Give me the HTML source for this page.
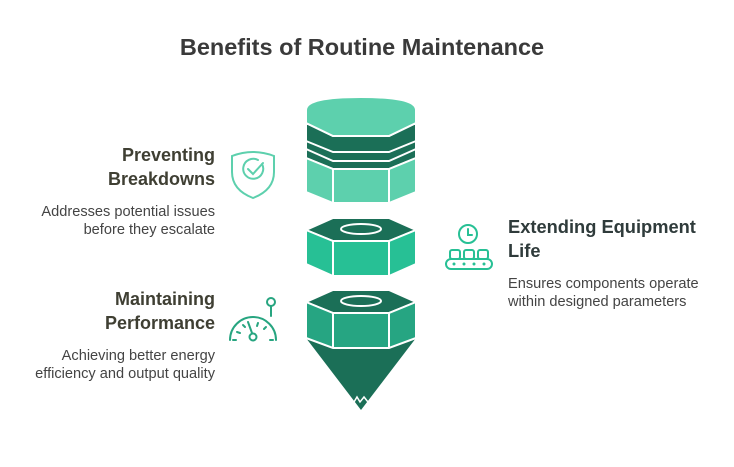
<!DOCTYPE html>
<html><head><meta charset="utf-8"><style>
body{margin:0;background:#fff;width:734px;height:462px;overflow:hidden;font-family:"Liberation Sans",sans-serif}
</style></head><body>
<svg width="734" height="462" viewBox="0 0 734 462" xmlns="http://www.w3.org/2000/svg" font-family="Liberation Sans, sans-serif">
<text x="362" y="55" text-anchor="middle" font-size="23.5" font-weight="bold" fill="#3a3a3a">Benefits of Routine Maintenance</text>
<!-- top piece -->
<g stroke="#fff" stroke-width="2">
<path d="M306,123 L306,192 L333,203 L389,203 L416,192 L416,123 Z" fill="#5dd0ad"/>
<path d="M306,123 L333,136 L389,136 L416,123 L416,158 L389,169 L333,169 L306,158 Z" fill="#1b6f57"/>
<path d="M306,141 L333,152 L389,152 L416,141" fill="none"/>
<path d="M306,149 L333,161 L389,161 L416,149" fill="none"/>
<path d="M306,158 L333,169 L389,169 L416,158 L416,192 L389,203 L333,203 L306,192 Z" fill="#5dd0ad"/>
<line x1="333" y1="169" x2="333" y2="203"/><line x1="389" y1="169" x2="389" y2="203"/>
<path d="M306,110 Q306,97 361,97 Q416,97 416,110 L416,123 L389,136 L333,136 L306,123 Z" fill="#5dd0ad"/>
</g>
<!-- middle -->
<g stroke="#fff" stroke-width="2">
<path d="M333,218 L389,218 L416,230 L389,241 L333,241 L306,230 Z" fill="#1b6f57"/>
<path d="M306,230 L333,241 L389,241 L416,230 L416,264 L389,276 L333,276 L306,264 Z" fill="#27c095"/>
<line x1="333" y1="241" x2="333" y2="276"/><line x1="389" y1="241" x2="389" y2="276"/>
<ellipse cx="361" cy="229" rx="20" ry="5" fill="none"/>
</g>
<!-- bottom -->
<g stroke="#fff" stroke-width="2">
<path d="M306,338 L333,348 L389,348 L416,338 L361,410 Z" fill="#1b6f57" stroke="none"/>
<path d="M333,290 L389,290 L416,302 L389,313 L333,313 L306,302 Z" fill="#1b6f57"/>
<path d="M306,302 L333,313 L389,313 L416,302 L416,338 L389,348 L333,348 L306,338 Z" fill="#26a582"/>
<line x1="333" y1="313" x2="333" y2="348"/><line x1="389" y1="313" x2="389" y2="348"/>
<ellipse cx="361" cy="301" rx="20" ry="5" fill="none"/>
<path d="M354,402 L357,397 L360,402 L364,397 L368,402" fill="none" stroke-width="1.5"/>
</g>
<!-- texts -->
<g font-weight="bold" font-size="18" fill="#3f3f33" text-anchor="end">
<text x="215" y="161">Preventing</text><text x="215" y="185">Breakdowns</text>
<text x="215" y="305">Maintaining</text><text x="215" y="329">Performance</text>
</g>
<g font-size="14.6" fill="#444" text-anchor="end">
<text x="215" y="216">Addresses potential issues</text><text x="215" y="234">before they escalate</text>
<text x="215" y="360">Achieving better energy</text><text x="215" y="378">efficiency and output quality</text>
</g>
<g font-weight="bold" font-size="18.3" fill="#2f3b3b">
<text x="508" y="233">Extending Equipment</text><text x="508" y="257">Life</text>
</g>
<g font-size="14.6" fill="#444">
<text x="508" y="288">Ensures components operate</text><text x="508" y="306">within designed parameters</text>
</g>
<!-- icons -->
<g fill="none" stroke="#5dd0ad" stroke-width="2" stroke-linecap="round">
<path d="M232,156 Q253,148 274,156 L274,172 Q274,190 253,198 Q232,190 232,172 Z"/>
<path d="M262,164 A10,10 0 1 1 258,160"/><path d="M248,169 L253,174 L263,163"/>
</g>
<g fill="none" stroke="#27a580" stroke-width="2" stroke-linecap="round">
<circle cx="271" cy="302" r="4"/><line x1="271" y1="306" x2="271" y2="316"/>
<path d="M230,340 A23,23 0 0 1 276,340"/>
<circle cx="253" cy="337" r="3.5"/><line x1="252" y1="333" x2="248" y2="322"/>
<line x1="237" y1="332" x2="240" y2="333"/><line x1="243" y1="325" x2="245" y2="327"/>
<line x1="258" y1="323" x2="257" y2="326"/><line x1="266" y1="327" x2="264" y2="329"/>
<line x1="233" y1="340" x2="236" y2="340"/><line x1="270" y1="340" x2="273" y2="340"/>
</g>
<g fill="none" stroke="#27c095" stroke-width="2" stroke-linecap="round">
<circle cx="468" cy="234" r="9"/><path d="M468,229 L468,235 L472,235"/>
<rect x="450" y="250" width="10" height="9" rx="2"/><rect x="464" y="250" width="10" height="9" rx="2"/><rect x="478" y="250" width="10" height="9" rx="2"/>
<rect x="446" y="259" width="46" height="10" rx="5"/>
</g>
<g fill="#27c095"><circle cx="454" cy="264" r="1.5"/><circle cx="464" cy="264" r="1.5"/><circle cx="474" cy="264" r="1.5"/><circle cx="484" cy="264" r="1.5"/></g>
</svg>
</body></html>
